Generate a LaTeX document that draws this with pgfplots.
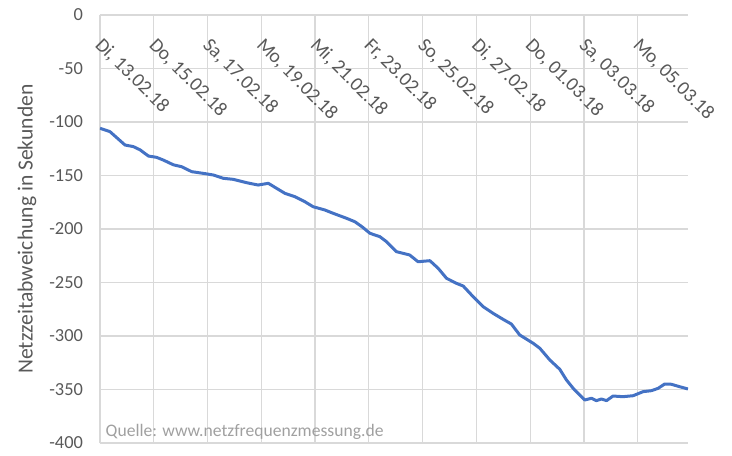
\documentclass[border=0pt]{standalone}
\usepackage{pgfplots}
\pgfplotsset{compat=1.18}
\usepackage{fontspec}
\setmainfont{Carlito}
\definecolor{linecol}{HTML}{4472C4}
\definecolor{gridcol}{HTML}{D9D9D9}
\definecolor{txtcol}{HTML}{595959}
\definecolor{srccol}{HTML}{A0A0A0}
\begin{document}
\begin{tikzpicture}
\useasboundingbox (-50pt,-6pt) rectangle (316pt,221.5pt);
\begin{axis}[
  scale only axis,
  width=294pt, height=214pt,
  xmin=0, xmax=21.87, ymin=-400, ymax=0,
  xtick={0,2,...,20},
  xticklabels={{Di, 13.02.18},{Do, 15.02.18},{Sa, 17.02.18},{Mo, 19.02.18},{Mi, 21.02.18},{Fr, 23.02.18},{So, 25.02.18},{Di, 27.02.18},{Do, 01.03.18},{Sa, 03.03.18},{Mo, 05.03.18}},
  ytick={-400,-350,...,0},
  xticklabel pos=upper,
  axis line style={draw=none},
  major tick length=0pt,
  grid=major,
  major grid style={draw=gridcol, line width=0.6pt},
  tick label style={font=\fontsize{9.2}{10}\selectfont, text=txtcol},
  /pgf/number format/assume math mode=true,
  x tick label style={font=\fontsize{9.8}{10}\selectfont, inner sep=0pt, anchor=north west, xshift=2pt, yshift=-10.5pt, rotate=-45},
  y tick label style={xshift=-5pt},
  every axis y label/.style={at={(axis description cs:-0.124,0.5)}, rotate=90, anchor=center},
  ylabel={Netzzeitabweichung in Sekunden},
  label style={font=\fontsize{10.8}{12}\selectfont, text=txtcol},
]
\addplot[linecol, line width=1.5pt, line join=round] coordinates {
(0,-105.9) (0.37,-109) (0.93,-121.5) (1.24,-123) (1.49,-126) (1.8,-131.8) (2.1,-133) (2.35,-135.5)
(2.73,-140) (3.04,-141.8) (3.41,-146.4) (3.84,-148) (4.21,-149.5) (4.58,-152.6) (4.96,-153.6)
(5.45,-156.7) (5.88,-158.9) (6.26,-157.3) (6.57,-162) (6.88,-166.7) (7.25,-169.8) (7.62,-174.5)
(7.93,-179.2) (8.36,-182.2) (8.67,-185.3) (9.17,-190) (9.48,-193.2) (9.75,-198) (10.04,-204)
(10.41,-207.2) (10.66,-211.9) (11.03,-221.2) (11.52,-224.3) (11.83,-230.6) (12.27,-229.6)
(12.58,-236.8) (12.89,-246.1) (13.26,-250.8) (13.51,-253.3) (13.88,-263.3) (14.25,-272.6)
(14.62,-278.8) (14.99,-284.4) (15.3,-288.8) (15.61,-299) (16.11,-306.8) (16.36,-311.5)
(16.73,-322.4) (17.1,-331.1) (17.35,-341.1) (17.6,-348.9) (18.03,-359.8) (18.28,-358.2)
(18.46,-360.4) (18.65,-358.9) (18.84,-360.4) (19.08,-356.1) (19.45,-356.7) (19.83,-355.8)
(20.2,-352) (20.51,-351.1) (20.76,-348.9) (21.0,-344.9) (21.25,-345.1) (21.56,-347.4) (21.87,-349.5)
};
\node[anchor=west, font=\fontsize{8.8}{10}\selectfont, text=srccol, inner sep=0pt] at (rel axis cs:0.009,0.026) {Quelle: www.netzfrequenzmessung.de};
\end{axis}
\end{tikzpicture}
\end{document}
